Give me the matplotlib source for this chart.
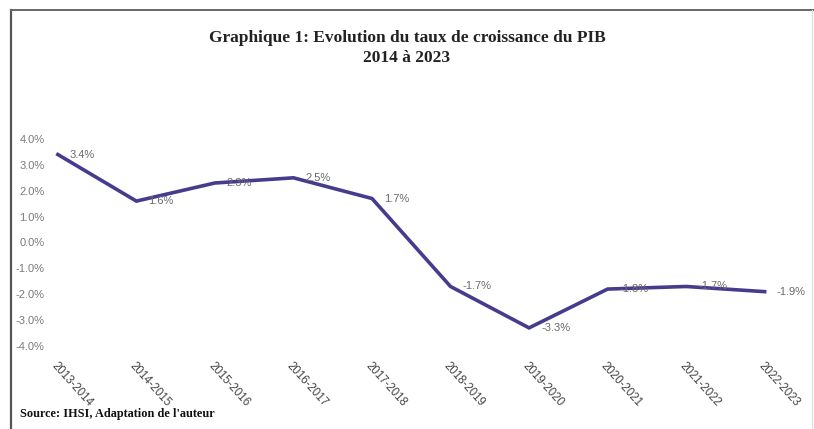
import matplotlib.pyplot as plt
from matplotlib.lines import Line2D

periodes = ['2013-2014', '2014-2015', '2015-2016', '2016-2017', '2017-2018',
            '2018-2019', '2019-2020', '2020-2021', '2021-2022', '2022-2023']
croissance = [3.4, 1.6, 2.3, 2.5, 1.7, -1.7, -3.3, -1.8, -1.7, -1.9]
y_ticks = [4, 3, 2, 1, 0, -1, -2, -3, -4]

fig = plt.figure(figsize=(8.14, 4.29), dpi=100)
W, H = 814, 429

# cadre du graphique
fig.add_artist(Line2D([11 / W, 11 / W], [0, 1 - 10 / H], color='#555555', lw=1.6))
fig.add_artist(Line2D([11 / W, 1], [1 - 10 / H, 1 - 10 / H], color='#666666', lw=1.4))
fig.add_artist(Line2D([812 / W, 812 / W], [0, 1 - 10 / H], color='#dddddd', lw=0.8))

ax = fig.add_axes([50 / W, (H - 346) / H, 750 / W, 207 / H])
x = list(range(len(periodes)))
ax.plot(x, croissance, color='#463c8e', lw=2.6, clip_on=False, solid_joinstyle='miter')

for i, v in zip(x, croissance):
    ax.annotate(f'{v:.1f}%', (i, v), xytext=(12, 0), textcoords='offset pixels',
                ha='left', va='center', fontsize=8, color='#6a6a6a', family='Liberation Sans')

ax.set_xlim(-0.1, 9.45)
ax.set_ylim(-4, 4)
ax.set_yticks(y_ticks)
ax.set_yticklabels([f'{t:.1f}%' for t in y_ticks], color='#7a7a7a', fontsize=8,
                   family='Liberation Sans')
ax.set_xticks(x)
ax.set_xticklabels(periodes, rotation=-48, ha='left', va='top', rotation_mode='anchor',
                   fontsize=8.3, color='#444444', family='Liberation Sans')
ax.tick_params(length=0)
ax.tick_params(axis='y', pad=4)
ax.tick_params(axis='x', pad=10)
for s in ax.spines.values():
    s.set_visible(False)

fig.text(0.5, 1 - 48 / H, 'Graphique 1: Evolution du taux de croissance du PIB\n2014 à 2023',
         ha='center', va='center', fontsize=12.5, fontweight='bold', family='Liberation Serif',
         color='#222222', linespacing=1.3)
fig.text(20 / W, 1 - 414 / H, "Source: IHSI, Adaptation de l'auteur", ha='left', va='center',
         fontsize=8.8, fontweight='bold', family='Liberation Serif', color='#111111')

fig.savefig('out.png', dpi=100)
